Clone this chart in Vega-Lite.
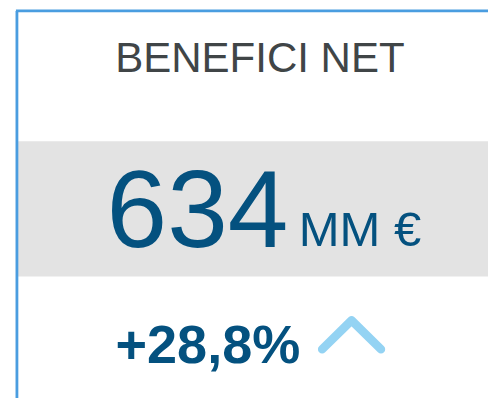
{
  "$schema": "https://vega.github.io/schema/vega-lite/v6.json",
  "width": 490,
  "height": 400,
  "autosize": {"type": "fit", "contains": "padding"},
  "padding": 0,
  "background": "white",
  "config": {"view": {"stroke": null}},
  "datasets": {
    "band": [{"x": 18, "x2": 490, "y": 142, "y2": 278}],
    "border": [
      {"side": "left", "x": 17, "x2": 17, "y": 11, "y2": 400},
      {"side": "top", "x": 16, "x2": 490, "y": 11, "y2": 11}
    ],
    "title": [{"label": "BENEFICI NET", "x": 261, "y": 72}],
    "value": [{"label": "634", "x": 107, "y": 248}],
    "unit": [{"label": "MM €", "x": 300, "y": 247}],
    "change": [{"label": "+28,8%", "x": 116, "y": 365}],
    "arrow": [
      {"i": 0, "x": 323.5, "y": 351},
      {"i": 1, "x": 353, "y": 322},
      {"i": 2, "x": 382.5, "y": 351}
    ]
  },
  "layer": [
    {
      "data": {"name": "band"},
      "mark": {"type": "rect", "fill": "#e3e3e3"},
      "encoding": {
        "x": {"field": "x", "type": "quantitative", "scale": {"domain": [0, 490], "nice": false, "zero": false}, "axis": null},
        "x2": {"field": "x2"},
        "y": {"field": "y", "type": "quantitative", "scale": {"domain": [0, 400], "nice": false, "zero": false, "reverse": true}, "axis": null},
        "y2": {"field": "y2"}
      }
    },
    {
      "data": {"name": "border"},
      "mark": {"type": "rule", "stroke": "#4a9de0", "strokeWidth": 2.8},
      "encoding": {
        "x": {"field": "x", "type": "quantitative", "axis": null},
        "x2": {"field": "x2"},
        "y": {"field": "y", "type": "quantitative", "axis": null},
        "y2": {"field": "y2"}
      }
    },
    {
      "data": {"name": "title"},
      "mark": {"type": "text", "font": "Liberation Sans", "fontSize": 42, "fill": "#404547", "align": "center", "baseline": "alphabetic"},
      "encoding": {
        "x": {"field": "x", "type": "quantitative", "axis": null},
        "y": {"field": "y", "type": "quantitative", "axis": null},
        "text": {"field": "label"}
      }
    },
    {
      "data": {"name": "value"},
      "mark": {"type": "text", "font": "Liberation Sans", "fontSize": 109, "fill": "#04517f", "align": "left", "baseline": "alphabetic"},
      "encoding": {
        "x": {"field": "x", "type": "quantitative", "axis": null},
        "y": {"field": "y", "type": "quantitative", "axis": null},
        "text": {"field": "label"}
      }
    },
    {
      "data": {"name": "unit"},
      "mark": {"type": "text", "font": "Liberation Sans", "fontSize": 49, "fill": "#04517f", "align": "left", "baseline": "alphabetic"},
      "encoding": {
        "x": {"field": "x", "type": "quantitative", "axis": null},
        "y": {"field": "y", "type": "quantitative", "axis": null},
        "text": {"field": "label"}
      }
    },
    {
      "data": {"name": "change"},
      "mark": {"type": "text", "font": "Liberation Sans", "fontSize": 54, "fontWeight": "bold", "fill": "#04517f", "align": "left", "baseline": "alphabetic"},
      "encoding": {
        "x": {"field": "x", "type": "quantitative", "axis": null},
        "y": {"field": "y", "type": "quantitative", "axis": null},
        "text": {"field": "label"}
      }
    },
    {
      "data": {"name": "arrow"},
      "mark": {"type": "line", "stroke": "#94d3f3", "strokeWidth": 8.5, "strokeCap": "round", "strokeJoin": "round"},
      "encoding": {
        "x": {"field": "x", "type": "quantitative", "axis": null},
        "y": {"field": "y", "type": "quantitative", "axis": null},
        "order": {"field": "i"}
      }
    }
  ]
}
